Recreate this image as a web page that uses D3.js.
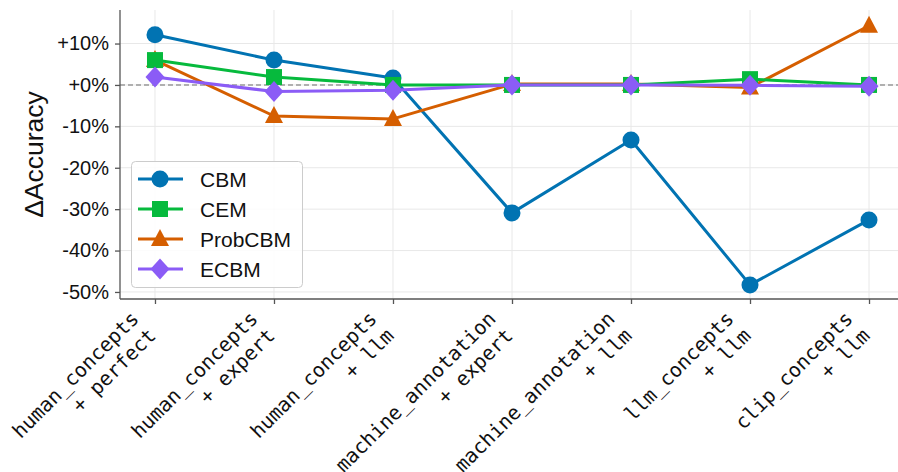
<!DOCTYPE html>
<html><head><meta charset="utf-8">
<script src="https://cdn.jsdelivr.net/npm/d3@7"></script>
<style>body{margin:0;background:#fff}svg{display:block}</style>
</head><body>
<script>
const categories = [
  ["human_concepts", "+ perfect"],
  ["human_concepts", "+ expert"],
  ["human_concepts", "+ llm"],
  ["machine_annotation", "+ expert"],
  ["machine_annotation", "+ llm"],
  ["llm_concepts", "+ llm"],
  ["clip_concepts", "+ llm"]
];
const seriesNames = ["CBM", "CEM", "ProbCBM", "ECBM"];
const cbm     = [12.1, 6.0, 1.7, -30.9, -13.3, -48.3, -32.6];
const cem     = [6.0, 1.9, 0.0, 0.0, 0.0, 1.4, 0.0];
const probcbm = [6.0, -7.5, -8.2, 0.2, 0.2, -0.6, 14.3];
const ecbm    = [1.9, -1.6, -1.3, 0.0, 0.0, -0.1, -0.3];
const yTicks  = [10, 0, -10, -20, -30, -40, -50];
const colors  = ["#0173b2", "#06ba3d", "#d55e00", "#8b5cf6"];
const shapes  = ["circle", "square", "triangle", "diamond"];
const values  = [cbm, cem, probcbm, ecbm];
const drawOrder = [0, 2, 1, 3];

const W = 898, H = 472;
const m = {left: 120, top: 10, right: 904, bottom: 299};
const svg = d3.select("body").append("svg").attr("width", W).attr("height", H);

const keys = categories.map(c => c.join("\n"));
const x = d3.scalePoint().domain(keys).range([m.left, m.right]).padding(0.294);
const y = d3.scaleLinear().domain([-51.7, 18.1]).range([m.bottom, m.top]);

const sans = "'Liberation Sans', Arial, Helvetica, sans-serif";

// grid
const g = svg.append("g");
g.selectAll(".gy").data(yTicks).join("line")
  .attr("x1", m.left).attr("x2", W).attr("y1", d => y(d)).attr("y2", d => y(d))
  .attr("stroke", "#e8e8e8").attr("stroke-width", 1);
g.selectAll(".gx").data(keys).join("line")
  .attr("x1", d => x(d)).attr("x2", d => x(d)).attr("y1", m.top).attr("y2", m.bottom)
  .attr("stroke", "#e8e8e8").attr("stroke-width", 1);

// zero line
svg.append("line").attr("x1", m.left).attr("x2", W).attr("y1", y(0)).attr("y2", y(0))
  .attr("stroke", "#999").attr("stroke-width", 1.4).attr("stroke-dasharray", "5,3");

// axes
const yAxis = d3.axisLeft(y).tickValues(yTicks).tickSize(5).tickPadding(6)
  .tickFormat(d => (d >= 0 ? "+" : "") + d + "%");
const ya = svg.append("g").attr("transform", `translate(${m.left},0)`).call(yAxis);
ya.select(".domain").attr("d", `M0,${m.top}V${m.bottom}`);
ya.selectAll("text").attr("font-family", sans).attr("font-size", 20).attr("fill", "#111")
  .text(d => (d >= 0 ? "+" : "-") + Math.abs(d) + "%");

const xAxis = d3.axisBottom(x).tickSize(5).tickFormat("");
const xa = svg.append("g").attr("transform", `translate(0,${m.bottom})`).call(xAxis);
xa.select(".domain").attr("d", `M${m.left},0H${W}`);
[ya, xa].forEach(a => {
  a.select(".domain").attr("stroke", "#555").attr("stroke-width", 1.3);
  a.selectAll(".tick line").attr("stroke", "#555").attr("stroke-width", 1.3);
});

// x labels
const lab = svg.append("g").selectAll("g").data(categories).join("g")
  .attr("transform", (d, i) => `translate(${x(keys[i]) - 15},${m.bottom + 21}) rotate(-45)`);
lab.each(function(d) {
  const t = d3.select(this).append("text")
    .attr("font-family", "'DejaVu Sans Mono', monospace").attr("font-size", 20)
    .attr("text-anchor", "end").attr("fill", "#111");
  t.append("tspan").attr("x", 0).attr("y", 0).text(d[0]);
  t.append("tspan").attr("x", 0).attr("y", 24).text(d[1]);
});

// y label
svg.append("text").attr("transform", `translate(43,${(m.top + m.bottom) / 2}) rotate(-90)`)
  .attr("text-anchor", "middle").attr("font-family", sans).attr("font-size", 26.5)
  .attr("fill", "#111").text("ΔAccuracy");

// markers
function marker(sel, shape, color) {
  if (shape === "circle") sel.append("circle").attr("r", 8.5);
  else if (shape === "square") sel.append("rect").attr("x", -8).attr("y", -8).attr("width", 16).attr("height", 16);
  else if (shape === "triangle") sel.append("path").attr("d", "M0,-10L9,7L-9,7Z");
  else sel.append("path").attr("d", "M0,-10.5L9.5,0L0,10.5L-9.5,0Z");
  sel.selectAll("*").attr("fill", color);
}

const line = d3.line().x((d, i) => x(keys[i])).y(d => y(d));
drawOrder.forEach(s => {
  const vals = values[s];
  const gs = svg.append("g");
  gs.append("path").datum(vals).attr("d", line).attr("fill", "none")
    .attr("stroke", colors[s]).attr("stroke-width", 3).attr("stroke-linejoin", "round");
  gs.selectAll("g").data(vals).join("g")
    .attr("transform", (d, i) => `translate(${x(keys[i])},${y(d)})`)
    .each(function() { marker(d3.select(this), shapes[s], colors[s]); });
});

// legend
const lg = svg.append("g");
lg.append("rect").attr("x", 131.5).attr("y", 161.5).attr("width", 171).attr("height", 126)
  .attr("rx", 4).attr("fill", "#fff").attr("fill-opacity", 0.85)
  .attr("stroke", "#ccc").attr("stroke-width", 1);
seriesNames.forEach((n, i) => {
  const cy = 179 + i * 30;
  const e = lg.append("g");
  e.append("line").attr("x1", 138).attr("x2", 183).attr("y1", cy).attr("y2", cy)
    .attr("stroke", colors[i]).attr("stroke-width", 3);
  const mk = e.append("g").attr("transform", `translate(160,${cy})`);
  marker(mk, shapes[i], colors[i]);
  e.append("text").attr("x", 200).attr("y", cy + 7.5).attr("font-family", sans)
    .attr("font-size", 21).attr("fill", "#111").text(n);
});
</script>
</body></html>
